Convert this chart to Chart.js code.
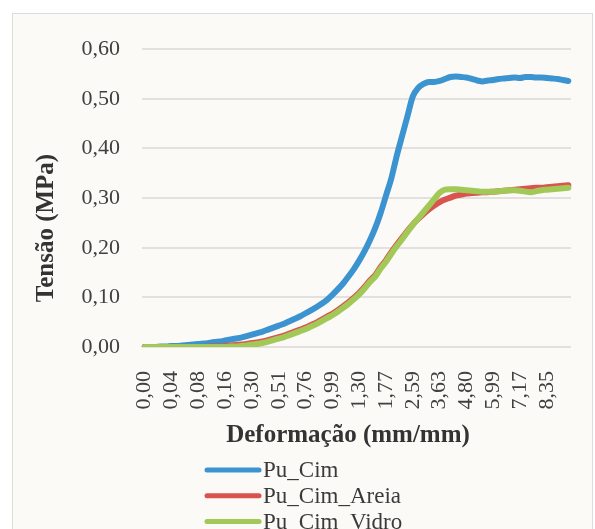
<!DOCTYPE html>
<html>
<head>
<meta charset="utf-8">
<script src="https://cdn.jsdelivr.net/npm/chart.js@4"></script>
<style>
  html, body { margin: 0; padding: 0; background: #ffffff; overflow: hidden; width: 595px; height: 529px; }
  .frame { position: absolute; left: 12px; top: 13px; width: 579px; height: 560px;
           border: 1px solid #dcdcdc; background: #fcfaf7; }
  canvas { position: absolute; left: 0; top: 0; }
</style>
</head>
<body>
<div class="frame"><canvas id="myChart" width="579" height="540"></canvas></div>
<script>
// tick labels shown every 5 points on the category axis
let tickLabels = ['0,00', '0,04', '0,08', '0,16', '0,30', '0,51', '0,76', '0,99',
                  '1,30', '1,77', '2,59', '3,63', '4,80', '5,99', '7,17', '8,35'];
let tickEvery = 5;

let seriesNames = ['Pu_Cim', 'Pu_Cim_Areia', 'Pu_Cim_Vidro'];
let seriesColors = ['#3b93d0', '#d9534f', '#a2c957'];

let puCim = [
  0.000, 0.000, 0.000, 0.001, 0.001, 0.002, 0.002, 0.003, 0.004, 0.005,
  0.006, 0.007, 0.008, 0.010, 0.011, 0.013, 0.015, 0.017, 0.019, 0.022,
  0.025, 0.028, 0.031, 0.035, 0.039, 0.043, 0.047, 0.052, 0.057, 0.062,
  0.068, 0.074, 0.080, 0.087, 0.095, 0.105, 0.116, 0.128, 0.142, 0.157,
  0.174, 0.193, 0.215, 0.240, 0.270, 0.305, 0.340, 0.385, 0.425, 0.465,
  0.505, 0.522, 0.530, 0.534, 0.534, 0.536, 0.540, 0.544, 0.545, 0.544,
  0.543, 0.540, 0.537, 0.535, 0.537, 0.538, 0.540, 0.541, 0.542, 0.543,
  0.542, 0.544, 0.544, 0.543, 0.543, 0.542, 0.541, 0.540, 0.538, 0.536
];

let puCimAreia = [
  0.000, 0.000, 0.000, 0.000, 0.000, 0.000, 0.000, 0.000, 0.000, 0.000,
  0.000, 0.000, 0.001, 0.001, 0.001, 0.002, 0.003, 0.004, 0.005, 0.006,
  0.008, 0.009, 0.011, 0.014, 0.017, 0.020, 0.023, 0.027, 0.031, 0.035,
  0.039, 0.044, 0.049, 0.055, 0.061, 0.067, 0.074, 0.082, 0.090, 0.099,
  0.109, 0.121, 0.134, 0.145, 0.161, 0.175, 0.191, 0.206, 0.220, 0.234,
  0.247, 0.258, 0.268, 0.277, 0.285, 0.292, 0.297, 0.301, 0.305, 0.307,
  0.309, 0.310, 0.311, 0.312, 0.312, 0.313, 0.314, 0.315, 0.316, 0.317,
  0.318, 0.319, 0.320, 0.321, 0.321, 0.322, 0.323, 0.324, 0.325, 0.326
];

let puCimVidro = [
  0.000, 0.000, 0.000, 0.000, 0.000, 0.000, 0.000, 0.000, 0.000, 0.000,
  0.000, 0.000, 0.000, 0.000, 0.000, 0.000, 0.001, 0.001, 0.002, 0.003,
  0.005, 0.006, 0.008, 0.011, 0.014, 0.017, 0.020, 0.024, 0.028, 0.032,
  0.036, 0.041, 0.046, 0.052, 0.058, 0.064, 0.071, 0.079, 0.087, 0.096,
  0.106, 0.118, 0.131, 0.142, 0.158, 0.172, 0.188, 0.203, 0.217, 0.232,
  0.246, 0.259, 0.272, 0.285, 0.298, 0.311, 0.317, 0.318, 0.318, 0.317,
  0.316, 0.315, 0.314, 0.313, 0.313, 0.313, 0.314, 0.315, 0.316, 0.316,
  0.315, 0.313, 0.312, 0.314, 0.316, 0.317, 0.318, 0.319, 0.320, 0.321
];

let categories = puCim.map((v, i) => i);
let allSeries = [puCim, puCimAreia, puCimVidro];

const serif = "'Liberation Serif', 'Times New Roman', serif";

// axis titles and the stacked legend, drawn like the original
const extras = {
  id: 'extras',
  afterDraw(chart) {
    const ctx = chart.ctx;
    ctx.save();
    ctx.fillStyle = '#333333';
    ctx.font = 'bold 25px ' + serif;
    ctx.textAlign = 'center';
    ctx.textBaseline = 'middle';
    ctx.fillText('Deformação (mm/mm)', 335, 422);

    ctx.translate(34, 214);
    ctx.rotate(-Math.PI / 2);
    ctx.fillText('Tensão (MPa)', 0, 0);
    ctx.restore();

    ctx.save();
    ctx.font = '23px ' + serif;
    ctx.textAlign = 'left';
    ctx.textBaseline = 'middle';
    ctx.lineCap = 'round';
    chart.data.datasets.forEach((ds, i) => {
      const y = 456 + i * 25.8;
      ctx.strokeStyle = ds.borderColor;
      ctx.lineWidth = 5;
      ctx.beginPath();
      ctx.moveTo(194, y);
      ctx.lineTo(246, y);
      ctx.stroke();
      ctx.fillStyle = '#3a3a3a';
      ctx.fillText(ds.label, 250, y + 1);
    });
    ctx.restore();
  }
};

let canvas = document.getElementById('myChart');

let myChart = new Chart(canvas, {
  type: 'line',
  data: {
    labels: categories,
    datasets: allSeries.map((values, i) => ({
      label: seriesNames[i],
      data: values,
      borderColor: seriesColors[i],
      backgroundColor: seriesColors[i],
      borderWidth: 6,
      pointRadius: 0,
      cubicInterpolationMode: 'monotone',
      borderCapStyle: 'round',
      order: 2 - i
    }))
  },
  options: {
    responsive: false,
    animation: false,
    layout: { padding: { left: 0, right: 21, top: 26, bottom: 127 } },
    plugins: {
      legend: { display: false },
      tooltip: { enabled: false }
    },
    scales: {
      x: {
        type: 'category',
        offset: true,
        grid: { display: false },
        border: { display: false },
        ticks: {
          autoSkip: false,
          minRotation: 90,
          maxRotation: 90,
          padding: 16,
          color: '#404040',
          font: { family: serif, size: 22 },
          callback: (value, index) => index % tickEvery === 0 ? tickLabels[index / tickEvery] : null
        },
        afterFit: (scale) => { scale.height = 80; }
      },
      y: {
        min: 0,
        max: 0.6,
        grid: { color: '#e2e1df', lineWidth: 2, drawTicks: false },
        border: { display: false },
        ticks: {
          stepSize: 0.1,
          padding: 22,
          color: '#404040',
          font: { family: serif, size: 22 },
          callback: (v) => v.toFixed(2).replace('.', ',')
        },
        afterFit: (scale) => { scale.width = 129; }
      }
    }
  },
  plugins: [extras]
});
</script>
</body>
</html>
